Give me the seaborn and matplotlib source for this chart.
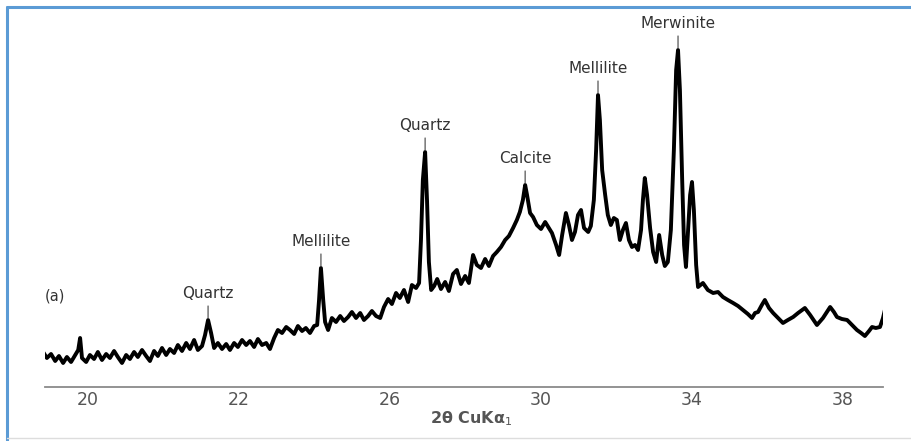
import matplotlib
matplotlib.use("Agg")
import matplotlib.pyplot as plt
from matplotlib.lines import Line2D
import seaborn as sns
import pandas as pd

# Diffraction scan: 2-theta (degrees) and intensity (arbitrary units)
two_theta = [
    16.81, 16.91, 17.02, 17.13, 17.23, 17.34, 17.44, 17.55, 17.66, 17.74,
    17.79, 17.84, 17.95, 18.05, 18.16, 18.26, 18.37, 18.48, 18.58, 18.69,
    18.79, 18.90, 19.01, 19.11, 19.22, 19.32, 19.43, 19.54, 19.64, 19.75,
    19.85, 19.96, 20.07, 20.17, 20.28, 20.38, 20.49, 20.60, 20.70, 20.81,
    20.91, 21.02, 21.10, 21.18, 21.26, 21.34, 21.44, 21.55, 21.66, 21.76,
    21.87, 21.97, 22.08, 22.19, 22.29, 22.40, 22.50, 22.61, 22.72, 22.82,
    22.93, 23.03, 23.14, 23.25, 23.35, 23.46, 23.56, 23.67, 23.77, 23.88,
    23.99, 24.07, 24.12, 24.17, 24.23, 24.28, 24.36, 24.46, 24.57, 24.68,
    24.78, 24.89, 24.99, 25.10, 25.21, 25.31, 25.42, 25.52, 25.63, 25.74,
    25.84, 25.95, 26.05, 26.16, 26.26, 26.37, 26.48, 26.58, 26.69, 26.77,
    26.82, 26.87, 26.93, 26.98, 27.03, 27.09, 27.17, 27.25, 27.35, 27.46,
    27.56, 27.67, 27.77, 27.88, 27.99, 28.09, 28.20, 28.30, 28.41, 28.52,
    28.62, 28.73, 28.83, 28.94, 29.05, 29.15, 29.26, 29.36, 29.44, 29.52,
    29.58, 29.63, 29.71, 29.79, 29.89, 30.00, 30.11, 30.21, 30.29, 30.40,
    30.48, 30.56, 30.66, 30.74, 30.82, 30.90, 30.98, 31.06, 31.14, 31.25,
    31.32, 31.40, 31.46, 31.51, 31.56, 31.62, 31.70, 31.77, 31.85, 31.93,
    32.01, 32.09, 32.17, 32.25, 32.33, 32.41, 32.49, 32.57, 32.65, 32.70,
    32.75, 32.81, 32.89, 32.97, 33.05, 33.13, 33.21, 33.28, 33.36, 33.44,
    33.52, 33.58, 33.63, 33.68, 33.74, 33.79, 33.84, 33.89, 33.95, 34.00,
    34.05, 34.11, 34.16, 34.29, 34.42, 34.56, 34.69, 34.82, 34.95, 35.09,
    35.22, 35.35, 35.48, 35.59, 35.67, 35.75, 35.85, 35.93, 36.04, 36.15,
    36.28, 36.41, 36.54, 36.68, 36.81, 36.99, 37.13, 37.31, 37.47, 37.66,
    37.76, 37.84, 37.97, 38.11, 38.24, 38.37, 38.48, 38.58, 38.69, 38.77,
    38.87, 38.98, 39.06, 39.11,
]
intensity = [
    35, 29, 33, 26, 31, 24, 30, 25, 32, 37,
    49, 29, 25, 32, 28, 35, 27, 33, 29, 36,
    30, 24, 32, 28, 35, 30, 37, 31, 26, 36,
    31, 39, 32, 38, 34, 42, 36, 44, 38, 47,
    37, 41, 52, 67, 54, 39, 44, 38, 43, 37,
    44, 40, 47, 42, 46, 40, 48, 42, 44, 38,
    49, 57, 54, 60, 57, 53, 61, 56, 59, 54,
    61, 62, 87, 119, 87, 65, 57, 69, 65, 71,
    66, 70, 75, 69, 74, 67, 71, 76, 71, 69,
    80, 88, 83, 94, 89, 97, 85, 102, 99, 104,
    147, 207, 235, 187, 125, 97, 101, 108, 98, 105,
    96, 113, 117, 103, 111, 104, 132, 122, 119, 128,
    121, 131, 135, 140, 147, 151, 159, 167, 175, 187,
    202, 192, 174, 170, 162, 158, 165, 159, 154, 142,
    132, 152, 174, 162, 147, 155, 172, 177, 159, 155,
    161, 187, 237, 292, 267, 217, 192, 172, 162, 169,
    167, 147, 157, 164, 147, 140, 142, 137, 157, 187,
    209, 192, 159, 135, 125, 152, 132, 121, 125, 157,
    237, 317, 337, 297, 207, 142, 120, 152, 192, 205,
    177, 122, 100, 104, 97, 94, 95, 90, 87, 84,
    81, 77, 73, 69, 74, 75, 82, 87, 79, 74,
    69, 64, 67, 70, 74, 79, 72, 62, 69, 80,
    75, 70, 68, 67, 62, 57, 54, 51, 56, 60,
    59, 60, 69, 77,
]

# Identified phases and the 2-theta of the reflection each one marks
phase_names = ["Quartz", "Mellilite", "Quartz", "Calcite", "Mellilite", "Merwinite"]
phase_peaks = [21.18, 24.17, 26.93, 29.58, 31.51, 33.63]

# Axis ticks
major_ticks = [18, 22, 26, 30, 34, 38]
major_labels = ["20", "22", "26", "30", "34", "38"]
minor_ticks = [20, 24, 28, 32, 36]

scan = pd.DataFrame({"two_theta": two_theta, "intensity": intensity})

sns.set_style("white")
plt.rcParams["font.family"] = ["DejaVu Sans"]
plt.rcParams["mathtext.fontset"] = "dejavusans"

fig = plt.figure(figsize=(9.11, 4.41), dpi=100)
ax = fig.add_axes([45 / 911, 54 / 441, 838 / 911, 367 / 441])

sns.lineplot(data=scan, x="two_theta", y="intensity", ax=ax, color="black",
             linewidth=2.8, sort=False, estimator=None)

ax.set_xlim(16.86, 39.06)
ax.set_ylim(0, 367)

for side in ("left", "top", "right"):
    ax.spines[side].set_visible(False)
ax.spines["bottom"].set_color("#8a8a8a")
ax.spines["bottom"].set_linewidth(1.3)

ax.set_ylabel("")
ax.set_yticks([])
ax.set_xticks(major_ticks)
ax.set_xticklabels(major_labels)
ax.set_xticks(minor_ticks, minor=True)
ax.tick_params(axis="x", which="both", direction="in", length=4, width=1.1,
               color="#8a8a8a", labelsize=12.5, labelcolor="#555555", pad=3)

ax.set_xlabel("2θ CuKα$_1$", fontsize=11.5, color="#555555", fontweight="bold")
ax.xaxis.set_label_coords(0.508, -0.087)
ax.xaxis.label.set_va("center")

# Phase labels with a short leader down to each reflection
peak_heights = dict(zip(two_theta, intensity))
for name, pos in zip(phase_names, phase_peaks):
    top = peak_heights[pos]
    ax.annotate(name, xy=(pos, top + 2), xytext=(0, 12), textcoords="offset points",
                ha="center", va="bottom", fontsize=11, color="#333333",
                arrowprops=dict(arrowstyle="-", color="#555555", lw=0.9,
                                shrinkA=1, shrinkB=0))

ax.text(0.0, 0.248, "(a)", transform=ax.transAxes, ha="left", va="center",
        fontsize=10.5, color="#333333")

# Frame around the figure
blue = "#5b9bd5"
fig.add_artist(Line2D([6.5 / 911, 1.0], [1 - 6.5 / 441, 1 - 6.5 / 441],
                      transform=fig.transFigure, color=blue, lw=2.2))
fig.add_artist(Line2D([6.5 / 911, 6.5 / 911], [0.0, 1 - 6.5 / 441],
                      transform=fig.transFigure, color=blue, lw=2.2))
fig.add_artist(Line2D([6.5 / 911, 1.0], [3 / 441, 3 / 441],
                      transform=fig.transFigure, color="#dddddd", lw=1.0))

fig.savefig("out.png", dpi=100, facecolor="white")
